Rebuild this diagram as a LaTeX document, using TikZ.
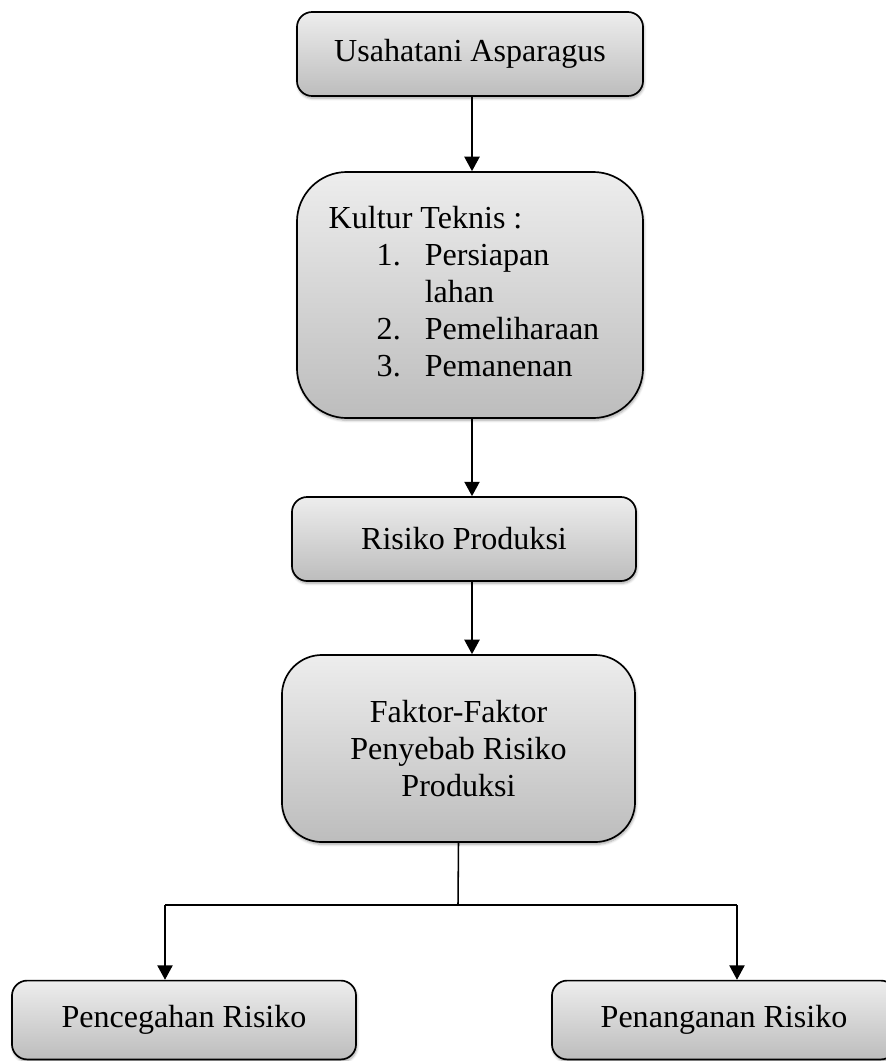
\documentclass[tikz,border=0pt]{standalone}
\usepackage{fontspec}
\setmainfont{Liberation Serif}
\usepackage{tikz}
\usetikzlibrary{arrows.meta,shadows.blur}

\begin{document}
\begin{tikzpicture}[x=0.025cm,y=-0.025cm,
    kotak/.style={draw,line width=1.2pt,rounded corners=0.38cm,top color=gray!14,bottom color=gray!52,
      blur shadow={shadow xshift=0.6pt,shadow yshift=-1.6pt,shadow blur steps=6,shadow opacity=35},
      font=\fontsize{22.8}{26.4}\selectfont,align=center,inner sep=0pt},
    panah/.style={line width=1.1pt,-{Triangle[width=0.38cm,length=0.36cm]}}]
      \useasboundingbox (0,0) rectangle (886,1061);
      \node[kotak,minimum width=8.65cm,minimum height=2.1cm] (usaha) at (470,54) {Usahatani Asparagus};
      \node[kotak,minimum width=8.65cm,minimum height=6.15cm,rounded corners=1.25cm] (kultur) at (470,295) {%
        \begin{tabular}{@{}l@{}l@{\hspace{0.3cm}}}
          \multicolumn{2}{@{}l@{\hspace{0.3cm}}}{Kultur Teknis :}\\
          \hspace{1.2cm}1.\hspace{0.6cm} & Persiapan\\
          & lahan\\
          \hspace{1.2cm}2. & Pemeliharaan\\
          \hspace{1.2cm}3. & Pemanenan
        \end{tabular}};
      \node[kotak,minimum width=8.6cm,minimum height=2.1cm] (risiko) at (464,539) {Risiko Produksi};
      \node[kotak,minimum width=8.825cm,minimum height=4.675cm,rounded corners=1cm] (faktor) at (458.5,748.5)
        {Faktor-Faktor\\Penyebab Risiko\\Produksi};
      \node[kotak,minimum width=8.6cm,minimum height=1.97cm] (cegah) at (184,1020) {Pencegahan Risiko};
      \node[kotak,minimum width=8.6cm,minimum height=1.97cm] (tangan) at (724,1020) {Penanganan Risiko};

      \coordinate (cabang) at (458,905);
      \coordinate (kiri) at (165,905);
      \coordinate (kanan) at (737,905);
      \draw[panah] ([xshift=0.05cm]usaha.south) -- ([xshift=0.05cm]kultur.north);
      \draw[panah] ([xshift=0.05cm]kultur.south) -- ([xshift=0.05cm]kultur.south |- risiko.north);
      \draw[panah] ([xshift=0.2cm]risiko.south) -- ([xshift=0.2cm]risiko.south |- faktor.north);
      \draw[line width=1.1pt] (faktor.south) -- (cabang);
      \draw[line width=1.1pt] (kiri) -- (kanan);
      \draw[panah] (kiri) -- (kiri |- cegah.north);
      \draw[panah] (kanan) -- (kanan |- tangan.north);
    \end{tikzpicture}
\end{document}
